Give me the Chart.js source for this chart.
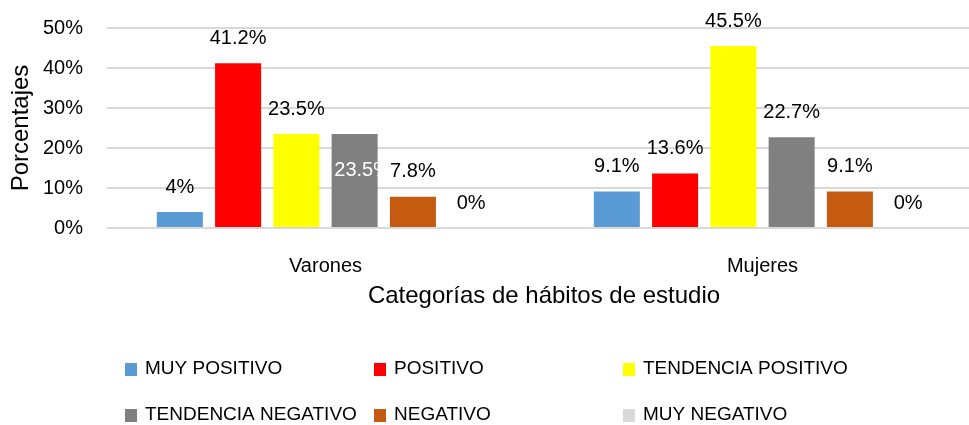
<!DOCTYPE html>
<html>
<head>
<meta charset="utf-8">
<script src="https://cdn.jsdelivr.net/npm/chart.js@4.4.1/dist/chart.umd.min.js"></script>
<style>
  html, body { margin: 0; padding: 0; background: #fff; overflow: hidden; }
  #wrap { width: 1000px; height: 425px; }
</style>
</head>
<body>
<div id="wrap"><canvas id="chart"></canvas></div>
<script>
// categories on the x axis
const categories = ['Varones', 'Mujeres'];

// one series per study-habit category (percent)
const seriesNames = ['MUY POSITIVO', 'POSITIVO', 'TENDENCIA POSITIVO', 'TENDENCIA NEGATIVO', 'NEGATIVO', 'MUY NEGATIVO'];
const muyPositivo = [4, 9.1];
const positivo = [41.2, 13.6];
const tendenciaPositivo = [23.5, 45.5];
const tendenciaNegativo = [23.5, 22.7];
const negativo = [7.8, 9.1];
const muyNegativo = [0, 0];

const yTicks = [0, 10, 20, 30, 40, 50];

const colors = ['#5b9bd5', '#ff0000', '#ffff00', '#808080', '#c55a11', '#d9d9d9'];
const FONT = "'Liberation Sans', Arial, sans-serif";

const allSeries = [muyPositivo, positivo, tendenciaPositivo, tendenciaNegativo, negativo, muyNegativo];

const datasets = allSeries.map((d, i) => ({
  label: seriesNames[i],
  data: d,
  backgroundColor: colors[i],
  categoryPercentage: 0.8,
  barPercentage: 0.79
}));

function fmt(v) {
  return v + '%';
}

// value labels above each bar (one label in the reference sits inside its bar, in white)
const valueLabels = {
  id: 'valueLabels',
  afterDatasetsDraw(chart) {
    const ctx = chart.ctx;
    ctx.save();
    ctx.font = '20px ' + FONT;
    ctx.textAlign = 'center';
    ctx.textBaseline = 'middle';
    chart.data.datasets.forEach((ds, di) => {
      chart.getDatasetMeta(di).data.forEach((bar, i) => {
        if (di === 3 && i === 0) {
          ctx.fillStyle = '#ffffff';
          ctx.fillText(fmt(ds.data[i]), bar.x + 8, bar.y + 36);
        } else {
          ctx.fillStyle = '#000000';
          ctx.fillText(fmt(ds.data[i]), bar.x, bar.y - 25);
        }
      });
    });
    ctx.restore();
  }
};

// legend in a 3-column grid under the chart
const gridLegend = {
  id: 'gridLegend',
  afterDraw(chart) {
    const ctx = chart.ctx;
    const colX = [125, 374, 623];
    const rowY = [369, 415];
    ctx.save();
    ctx.font = '19px ' + FONT;
    ctx.textBaseline = 'middle';
    ctx.textAlign = 'left';
    chart.data.datasets.forEach((ds, i) => {
      const x = colX[i % 3];
      const y = rowY[Math.floor(i / 3)];
      ctx.fillStyle = ds.backgroundColor;
      ctx.fillRect(x, y - 6, 12, 13);
      ctx.fillStyle = '#000000';
      ctx.fillText(ds.label, x + 20, y);
    });
    ctx.restore();
  }
};

new Chart(document.getElementById('chart'), {
  type: 'bar',
  data: {
    labels: categories,
    datasets: datasets
  },
  plugins: [valueLabels, gridLegend],
  options: {
    responsive: true,
    maintainAspectRatio: false,
    animation: false,
    layout: { padding: { top: 28, right: 19, left: 0, bottom: 0 } },
    plugins: {
      legend: { display: false },
      tooltip: { enabled: false }
    },
    scales: {
      x: {
        grid: { display: false },
        border: { display: false },
        ticks: { color: '#000', font: { family: FONT, size: 20 }, padding: 18 },
        title: {
          display: true,
          text: 'Categorías de hábitos de estudio',
          color: '#000',
          font: { family: FONT, size: 24 },
          padding: { top: 0, bottom: 114 }
        },
        afterFit(scale) {
          scale.height = 197;
          scale.paddingLeft = 0;
          scale.paddingRight = 0;
        }
      },
      y: {
        min: 0,
        max: 50,
        afterBuildTicks(scale) { scale.ticks = yTicks.map(v => ({ value: v })); },
        ticks: {
          color: '#000',
          font: { family: FONT, size: 20 },
          padding: 24,
          callback: v => v + '%'
        },
        grid: { color: '#d9d9d9', lineWidth: 2, drawTicks: false },
        border: { display: false },
        title: {
          display: true,
          text: 'Porcentajes',
          color: '#000',
          font: { family: FONT, size: 24 },
          padding: { top: 7, bottom: 0 }
        },
        afterFit(scale) {
          scale.width = 107;
          scale.paddingTop = 0;
          scale.paddingBottom = 0;
        }
      }
    }
  }
});
</script>
</body>
</html>
